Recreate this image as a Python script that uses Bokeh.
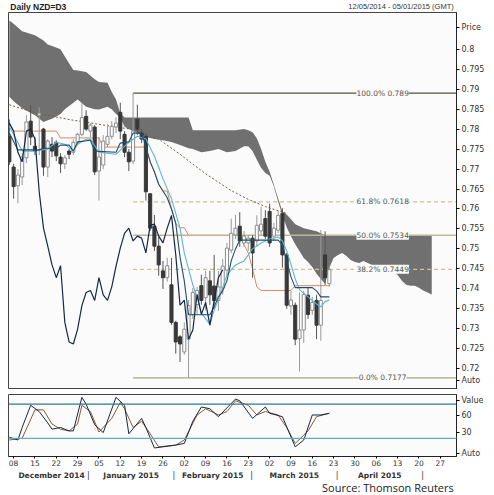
from bokeh.plotting import figure
from bokeh.models import Range1d, LinearAxis, FixedTicker, Label, Span, ColumnDataSource, AllLabels
from bokeh.layouts import column
from bokeh.core.properties import value
from bokeh.embed import file_html
from bokeh.resources import INLINE

# ---------------- data ----------------
title_left = "Daily NZD=D3"
title_right = "12/05/2014 - 05/01/2015 (GMT)"
source_text = "Source: Thomson Reuters"

bar_idx = list(range(76))  # trading days from 2014-12-05
opens = [0.7782, 0.7705, 0.7658, 0.7680, 0.7728, 0.7820, 0.7757, 0.7835, 0.7800, 0.7705,
         0.7762, 0.7767, 0.7730, 0.7713, 0.7745, 0.7742, 0.7767, 0.7787, 0.7832, 0.7795,
         0.7805, 0.7695, 0.7710, 0.7762, 0.7782, 0.7805, 0.7842, 0.7787, 0.7742, 0.7720,
         0.7825, 0.7790, 0.7782, 0.7638, 0.7557, 0.7507, 0.7445, 0.7428, 0.7410, 0.7316,
         0.7280, 0.7242, 0.7274, 0.7336, 0.7361, 0.7408, 0.7378, 0.7420, 0.7407, 0.7371,
         0.7402, 0.7447, 0.7497, 0.7535, 0.7557, 0.7515, 0.7515, 0.7527, 0.7520, 0.7545,
         0.7576, 0.7594, 0.7532, 0.7547, 0.7589, 0.7485, 0.7357, 0.7359, 0.7275, 0.7297,
         0.7384, 0.7346, 0.7371, 0.7309, 0.7485, 0.7413]
highs = [0.7824, 0.7713, 0.7700, 0.7740, 0.7835, 0.7860, 0.7780, 0.7855, 0.7803, 0.7775,
         0.7780, 0.7772, 0.7740, 0.7735, 0.7750, 0.7775, 0.7790, 0.7866, 0.7847, 0.7815,
         0.7810, 0.7780, 0.7785, 0.7812, 0.7820, 0.7830, 0.7866, 0.7795, 0.7750, 0.7890,
         0.7861, 0.7800, 0.7790, 0.7640, 0.7585, 0.7530, 0.7470, 0.7478, 0.7477, 0.7320,
         0.7284, 0.7316, 0.7372, 0.7402, 0.7405, 0.7435, 0.7445, 0.7445, 0.7485, 0.7445,
         0.7475, 0.7515, 0.7576, 0.7585, 0.7592, 0.7545, 0.7535, 0.7535, 0.7584, 0.7606,
         0.7597, 0.7613, 0.7565, 0.7595, 0.7602, 0.7490, 0.7395, 0.7366, 0.7391, 0.7395,
         0.7403, 0.7380, 0.7385, 0.7547, 0.7544, 0.7455]
lows = [0.7710, 0.7626, 0.7614, 0.7660, 0.7715, 0.7760, 0.7735, 0.7735, 0.7683, 0.7680,
        0.7730, 0.7720, 0.7690, 0.7700, 0.7725, 0.7735, 0.7760, 0.7782, 0.7795, 0.7780,
        0.7685, 0.7621, 0.7700, 0.7755, 0.7775, 0.7790, 0.7775, 0.7730, 0.7695, 0.7712,
        0.7785, 0.7765, 0.7621, 0.7545, 0.7495, 0.7433, 0.7400, 0.7418, 0.7310, 0.7238,
        0.7217, 0.7235, 0.7177, 0.7325, 0.7336, 0.7360, 0.7346, 0.7360, 0.7350, 0.7345,
        0.7385, 0.7435, 0.7490, 0.7525, 0.7505, 0.7505, 0.7495, 0.7428, 0.7505, 0.7535,
        0.7525, 0.7505, 0.7520, 0.7540, 0.7453, 0.7350, 0.7335, 0.7259, 0.7193, 0.7265,
        0.7325, 0.7335, 0.7274, 0.7270, 0.7410, 0.7405]
closes = [0.7718, 0.7656, 0.7685, 0.7730, 0.7818, 0.7780, 0.7745, 0.7840, 0.7705, 0.7770,
          0.7745, 0.7733, 0.7713, 0.7728, 0.7737, 0.7767, 0.7787, 0.7829, 0.7800, 0.7810,
          0.7693, 0.7730, 0.7770, 0.7782, 0.7807, 0.7815, 0.7795, 0.7742, 0.7718, 0.7795,
          0.7800, 0.7775, 0.7643, 0.7552, 0.7507, 0.7460, 0.7428, 0.7458, 0.7316, 0.7267,
          0.7262, 0.7299, 0.7358, 0.7391, 0.7396, 0.7371, 0.7428, 0.7385, 0.7371, 0.7405,
          0.7457, 0.7502, 0.7539, 0.7552, 0.7520, 0.7532, 0.7527, 0.7490, 0.7559, 0.7562,
          0.7532, 0.7515, 0.7552, 0.7584, 0.7485, 0.7359, 0.7372, 0.7274, 0.7297, 0.7386,
          0.7336, 0.7366, 0.7309, 0.7371, 0.7428, 0.7448]
chikou_shift = 25

# Ichimoku cloud (leading spans)
cloud_x = [0, 1, 3, 6, 8, 9, 10, 12, 13, 15,
           16, 18, 20, 21, 23, 24, 25, 26, 27, 28,
           30, 32, 34, 36, 38, 40, 42, 43, 45, 47,
           49, 51, 53, 55, 56, 57, 58, 59, 60, 61,
           62, 63, 64, 65, 66, 67, 68, 69, 70, 71,
           72, 73, 74, 75, 76, 77, 78, 79, 80, 81,
           82, 83, 84, 85, 86, 87, 88, 89, 90, 91,
           92, 93, 94, 95, 96, 97, 98, 99]
cloud_top = [0.8072, 0.8064, 0.8045, 0.8035, 0.8022, 0.8012, 0.8008, 0.8000, 0.7982, 0.7948,
             0.7947, 0.7943, 0.7925, 0.7918, 0.7916, 0.7893, 0.7874, 0.7840, 0.7829, 0.7829,
             0.7829, 0.7829, 0.7829, 0.7829, 0.7829, 0.7829, 0.7829, 0.7797, 0.7797, 0.7797,
             0.7797, 0.7797, 0.7797, 0.7800, 0.7797, 0.7792, 0.7777, 0.7750, 0.7718, 0.7693,
             0.7661, 0.7626, 0.7594, 0.7586, 0.7574, 0.7562, 0.7557, 0.7552, 0.7549, 0.7547,
             0.7544, 0.7539, 0.7534, 0.7534, 0.7534, 0.7534, 0.7534, 0.7534, 0.7534, 0.7534,
             0.7534, 0.7534, 0.7534, 0.7534, 0.7534, 0.7534, 0.7534, 0.7534, 0.7534, 0.7534,
             0.7534, 0.7534, 0.7534, 0.7534, 0.7534, 0.7534, 0.7534, 0.7534]
cloud_bot = [0.7881, 0.7870, 0.7852, 0.7835, 0.7818, 0.7822, 0.7826, 0.7838, 0.7850, 0.7866,
             0.7874, 0.7856, 0.7850, 0.7849, 0.7856, 0.7850, 0.7838, 0.7830, 0.7806, 0.7800,
             0.7790, 0.7780, 0.7775, 0.7772, 0.7768, 0.7760, 0.7752, 0.7750, 0.7742, 0.7745,
             0.7750, 0.7742, 0.7745, 0.7757, 0.7757, 0.7745, 0.7723, 0.7703, 0.7690, 0.7683,
             0.7656, 0.7618, 0.7584, 0.7554, 0.7532, 0.7512, 0.7495, 0.7477, 0.7467, 0.7455,
             0.7438, 0.7425, 0.7413, 0.7453, 0.7477, 0.7485, 0.7490, 0.7482, 0.7472, 0.7467,
             0.7465, 0.7470, 0.7465, 0.7460, 0.7458, 0.7455, 0.7453, 0.7450, 0.7445, 0.7435,
             0.7420, 0.7410, 0.7408, 0.7408, 0.7403, 0.7396, 0.7391, 0.7386]

tenkan_x = [0, 2, 7, 8, 11, 12, 14, 15, 16, 19, 20, 25, 26, 28, 29, 31, 32, 33, 34, 35,
            36, 37, 38, 39, 40, 41, 42, 47, 48, 49, 50, 51, 52, 53, 54, 63, 64, 65, 66, 67,
            71, 72, 73, 75]
tenkan = [0.7790, 0.7748, 0.7748, 0.7752, 0.7752, 0.7760, 0.7760, 0.7745, 0.7768, 0.7772,
          0.7745, 0.7742, 0.7765, 0.7768, 0.7790, 0.7790, 0.7756, 0.7718, 0.7693, 0.7662,
          0.7645, 0.7628, 0.7600, 0.7564, 0.7480, 0.7420, 0.7335, 0.7335, 0.7355, 0.7380,
          0.7395, 0.7420, 0.7470, 0.7500, 0.7522, 0.7522, 0.7510, 0.7470, 0.7430, 0.7403,
          0.7403, 0.7395, 0.7380, 0.7380]
kijun_x = [1, 11, 12, 21, 22, 31, 32, 33, 34, 35, 36, 37, 38, 39, 40, 41, 42, 54, 55, 56,
           57, 58, 59, 66, 67, 75]
kijun = [0.7795, 0.7795, 0.7778, 0.7778, 0.7755, 0.7755, 0.7756, 0.7718, 0.7693, 0.7662,
         0.7645, 0.7645, 0.7600, 0.7564, 0.7553, 0.7553, 0.7534, 0.7534, 0.7510, 0.7490,
         0.7450, 0.7405, 0.7396, 0.7396, 0.7408, 0.7408]
fast_ma_x = [0, 3, 6, 9, 11, 13, 15, 16, 18, 19, 21, 25, 28, 30, 32, 34, 36, 38, 40, 41,
             43, 44, 45, 47, 48, 50, 51, 53, 55, 57, 59, 61, 63, 64, 65, 66, 67, 68, 70, 72,
             73, 74, 75]
fast_ma = [0.7807, 0.7745, 0.7745, 0.7750, 0.7767, 0.7762, 0.7745, 0.7762, 0.7775, 0.7775,
           0.7742, 0.7737, 0.7767, 0.7782, 0.7775, 0.7732, 0.7676, 0.7626, 0.7552, 0.7490,
           0.7410, 0.7378, 0.7340, 0.7311, 0.7346, 0.7403, 0.7435, 0.7460, 0.7470, 0.7500,
           0.7515, 0.7525, 0.7530, 0.7520, 0.7495, 0.7462, 0.7425, 0.7398, 0.7380, 0.7362,
           0.7355, 0.7368, 0.7372]
slow_ma_x = [0, 6, 14, 21, 29, 35, 40, 46, 52, 56, 60, 65]
slow_ma = [0.7861, 0.7841, 0.7824, 0.7812, 0.7799, 0.7775, 0.7737, 0.7688, 0.7646, 0.7624,
           0.7606, 0.7589]

fib_pct = ["100.0%", "61.8%", "50.0%", "38.2%", "0.0%"]
fib_val = [0.789, 0.7618, 0.7534, 0.7449, 0.7177]
fib_start = 29

stoch_k_x = [0, 2, 3, 5, 7, 9, 10, 12, 14, 15, 17, 18, 20, 22, 25, 27, 28, 31, 32, 34,
             36, 39, 41, 43, 45, 47, 49, 53, 54, 57, 60, 61, 64, 67, 69, 71, 73, 75]
stoch_k = [22, 17, 39, 78, 67, 47, 36, 39, 33, 33, 92, 80, 44, 30, 92, 78, 28, 55, 39, 3,
           5, 8, 11, 50, 75, 72, 58, 89, 86, 55, 75, 64, 58, 5, 17, 61, 61, 64]
stoch_d_x = [0, 3, 6, 8, 10, 12, 14, 16, 17, 19, 21, 24, 26, 27, 29, 31, 33, 35, 39, 41,
             44, 46, 49, 51, 53, 56, 58, 60, 63, 65, 67, 70, 72, 75]
stoch_d = [17, 20, 70, 70, 45, 36, 33, 45, 78, 67, 31, 55, 83, 72, 39, 50, 28, 5, 8, 17,
           61, 72, 61, 67, 86, 78, 61, 67, 61, 39, 11, 33, 58, 64]
stoch_levels = [80, 20]

price_ticks = [0.72, 0.725, 0.73, 0.735, 0.74, 0.745, 0.75, 0.755, 0.76, 0.765, 0.77,
               0.775, 0.78, 0.785, 0.79, 0.795, 0.8]
price_tick_labels = ["0.72", "0.725", "0.73", "0.735", "0.74", "0.745", "0.75", "0.755",
                     "0.76", "0.765", "0.77", "0.775", "0.78", "0.785", "0.79", "0.795", "0.8"]
price_extra_ticks = [0.8055, 0.7170]
price_extra_labels = ["Price", "Auto"]
value_ticks = [-6, 30, 60, 86]
value_tick_labels = ["Auto", "30", "60", "Value"]
day_ticks = [1, 6, 11, 16, 21, 26, 31, 36, 41, 46, 51, 56, 61, 66, 71, 76, 81, 86, 91, 96, 101]
day_labels = ["08", "15", "22", "29", "05", "12", "19", "26", "02", "09", "16", "23",
              "02", "09", "16", "23", "30", "06", "13", "20", "27"]
month_centers = [9, 29.5, 50.5, 71.5, 93.5]
month_labels = ["December 2014", "January 2015", "February 2015", "March 2015", "April 2015"]
month_bounds = [18.5, 40.5, 60.5, 82.5, 104.5]

# ---------------- styling ----------------
FONT = "DejaVu Sans"
HFONT = "Liberation Sans"
W = 492
LEFT = 8
FRAME_W = 448
RIGHT = W - LEFT - FRAME_W
HDR_H = 12
P1_H = 377
P2_H = 79
P2_TOP = 5
FTR_H = 26
BG = "#fbfbfb"

x_rng = Range1d(-0.2, 104.8)
ppu = FRAME_W / (x_rng.end - x_rng.start)


def style_axis(ax, size="8px"):
    ax.major_label_text_font = FONT
    ax.major_label_text_font_size = size
    ax.major_label_text_color = "#333333"
    ax.minor_tick_line_color = None
    ax.major_label_policy = AllLabels()


# header strip
hdr = figure(width=W, height=HDR_H, x_range=Range1d(0, W), y_range=Range1d(0, HDR_H),
             output_backend="svg", toolbar_location=None, min_border=0,
             x_axis_location=None, y_axis_location=None)
hdr.outline_line_color = None
hdr.grid.visible = False
hdr.text(x=[2], y=[HDR_H / 2], text=[title_left], text_font=value(HFONT),
         text_font_size="8.5px", text_font_style="bold", text_color="#222222",
         text_baseline="middle")
hdr.text(x=[W - 3], y=[HDR_H / 2], text=[title_right], text_font=value(HFONT),
         text_font_size="7.5px", text_color="#333333", text_baseline="middle",
         text_align="right")

# price pane
p = figure(width=W, height=P1_H, x_range=x_rng, y_range=Range1d(0.7148, 0.8092),
           output_backend="svg", toolbar_location=None, x_axis_location=None,
           y_axis_location="right", min_border_left=LEFT, min_border_right=RIGHT,
           min_border_top=0, min_border_bottom=0)
p.background_fill_color = BG
p.border_fill_color = "white"
p.outline_line_color = "#444444"
p.grid.visible = False

ya = p.yaxis[0]
all_price_ticks = price_ticks + price_extra_ticks
ya.ticker = FixedTicker(ticks=all_price_ticks)
ya.major_label_overrides = dict(zip(all_price_ticks, price_tick_labels + price_extra_labels))
style_axis(ya)
ya.major_tick_out = 3
ya.major_tick_in = 0
ya.major_label_standoff = 2
ya.axis_line_color = "#222222"

# cloud
p.varea(x=cloud_x, y1=cloud_bot, y2=cloud_top, fill_color="#707070", fill_alpha=1.0)

# kijun under the fibonacci lines
p.line(kijun_x, kijun, line_color="#e0875c", line_width=1)

# fibonacci levels
fib_colors = ["#55553f", "#c8c29c", "#bdb893", "#c8c29c", "#a9a98a"]
fib_dash = ["solid", "4 3", "solid", "4 3", "solid"]
fib_width = [1.2, 1.2, 1.5, 1.2, 1.2]
for lv, c, d, w in zip(fib_val, fib_colors, fib_dash, fib_width):
    p.segment(x0=[fib_start], y0=[lv], x1=[x_rng.end + 1], y1=[lv],
              line_color=c, line_dash=d, line_width=w)

# slow moving average (dashed)
p.line(slow_ma_x, slow_ma, line_color="#6e6148", line_dash="2 2", line_width=1)

# candles
bull = [i for i in bar_idx if closes[i] >= opens[i]]
bear = [i for i in bar_idx if closes[i] < opens[i]]
src_bull = ColumnDataSource(dict(x=[bar_idx[i] for i in bull],
                                 lo=[lows[i] for i in bull], hi=[highs[i] for i in bull],
                                 top=[closes[i] for i in bull], bot=[opens[i] for i in bull]))
src_bear = ColumnDataSource(dict(x=[bar_idx[i] for i in bear],
                                 lo=[lows[i] for i in bear], hi=[highs[i] for i in bear],
                                 top=[opens[i] for i in bear], bot=[closes[i] for i in bear]))
p.segment(x0="x", y0="lo", x1="x", y1="hi", source=src_bull, line_color="#9a9a9a", line_width=1)
p.segment(x0="x", y0="lo", x1="x", y1="hi", source=src_bear, line_color="#555555", line_width=1)
p.vbar(x="x", width=0.72, top="top", bottom="bot", source=src_bull,
       fill_color="#ffffff", line_color="#8c8c8c", line_width=1)
p.vbar(x="x", width=0.72, top="top", bottom="bot", source=src_bear,
       fill_color="#383838", line_color="#383838", line_width=1)

# ichimoku lines
p.line(fast_ma_x, fast_ma, line_color="#5fb3d6", line_width=1.1)
p.line(tenkan_x, tenkan, line_color="#1f4f6e", line_width=1.1)
chikou_x = bar_idx[:len(bar_idx) - chikou_shift]
chikou = closes[chikou_shift:]
p.line(chikou_x, chikou, line_color="#14284a", line_width=1.2)

# fib labels
for pct, lv in zip(fib_pct, fib_val):
    p.add_layout(Label(x=87.5, y=lv, text=f"{pct} {lv}", text_align="center",
                       text_baseline="middle", text_font=FONT, text_font_size="7.5px",
                       text_color="#55554a", background_fill_color=BG,
                       background_fill_alpha=1.0))

# ---------------- stochastic pane ----------------
p2 = figure(width=W, height=P2_H, x_range=x_rng, y_range=Range1d(-12, 97),
            output_backend="svg", toolbar_location=None, x_axis_location=None,
            y_axis_location="right", min_border_left=LEFT, min_border_right=RIGHT,
            min_border_top=P2_TOP, min_border_bottom=0)
p2.background_fill_color = BG
p2.border_fill_color = "white"
p2.outline_line_color = "#444444"
p2.grid.visible = False

ya2 = p2.yaxis[0]
ya2.ticker = FixedTicker(ticks=value_ticks)
ya2.major_label_overrides = dict(zip(value_ticks, value_tick_labels))
style_axis(ya2)
ya2.major_tick_out = 3
ya2.major_tick_in = 0
ya2.major_label_standoff = 2
ya2.axis_line_color = "#222222"

for lvl, c in zip(stoch_levels, ["#2f7b8c", "#5fb0c2"]):
    p2.add_layout(Span(location=lvl, dimension="width", line_color=c, line_width=1.2))

p2.line(stoch_d_x, stoch_d, line_color="#8a5a2e", line_width=1)
p2.line(stoch_k_x, stoch_k, line_color="#15284a", line_width=1)

xa = LinearAxis(ticker=FixedTicker(ticks=day_ticks),
                major_label_overrides=dict(zip(day_ticks, day_labels)))
style_axis(xa, "7.5px")
xa.major_tick_out = 2
xa.major_tick_in = 0
xa.major_label_standoff = 1
xa.axis_line_color = "#222222"
p2.add_layout(xa, "below")

# footer strip: month names and source, on the same day scale as the panes
ftr_x = Range1d(x_rng.start - LEFT / ppu, x_rng.end + RIGHT / ppu)
ftr = figure(width=W, height=FTR_H, x_range=ftr_x, y_range=Range1d(0, FTR_H),
             output_backend="svg", toolbar_location=None, min_border=0,
             x_axis_location=None, y_axis_location=None)
ftr.outline_line_color = None
ftr.grid.visible = False
ftr.text(x=month_centers, y=FTR_H - 7, text=month_labels, text_font=value(FONT),
         text_font_size="7.5px", text_font_style="bold", text_color="#333333",
         text_baseline="middle", text_align="center")
ftr.text(x=month_bounds, y=FTR_H - 7, text=["|"] * len(month_bounds), text_font=value(FONT),
         text_font_size="8px", text_color="#333333", text_baseline="middle",
         text_align="center")
ftr.text(x=[ftr_x.end - 3 / ppu], y=[7.5], text=[source_text], text_font=value("Open Sans"),
         text_font_size="11px", text_color="#222222", text_baseline="middle",
         text_align="right")

layout = column(hdr, p, p2, ftr, spacing=0)
open("out.html", "w").write(file_html(layout, INLINE))
